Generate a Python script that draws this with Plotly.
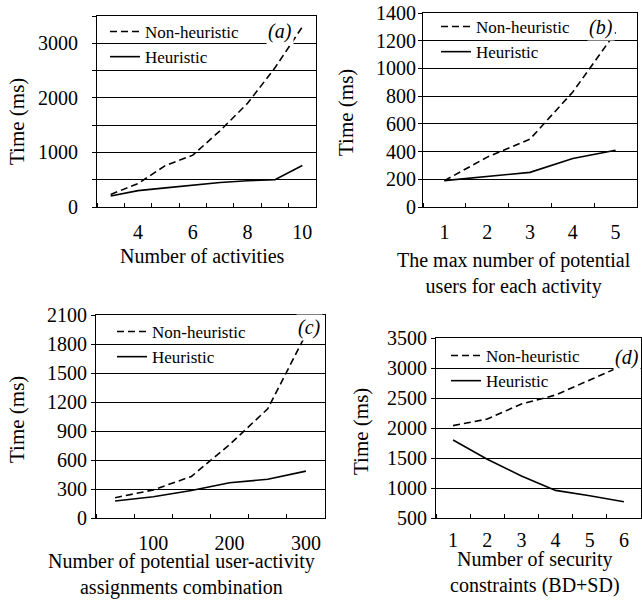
import plotly.graph_objects as go

W, H = 642, 608

# ---------------- data ----------------
a_x = [3, 4, 5, 6, 7, 8, 9, 10]
a_non = [230, 430, 760, 950, 1400, 1900, 2550, 3300]
a_heu = [200, 300, 350, 400, 450, 480, 500, 760]

b_x = [1, 2, 3, 4, 5]
b_non = [190, 360, 490, 830, 1260]
b_heu = [190, 220, 250, 350, 410]

c_x = [50, 100, 150, 200, 250, 300]
c_non = [210, 290, 430, 760, 1130, 1900]
c_heu = [175, 220, 285, 365, 400, 485]

d_x = [1, 2, 3, 4, 5, 6]
d_non = [2040, 2150, 2400, 2550, 2800, 3050]
d_heu = [1800, 1480, 1200, 960, 870, 770]

series_names = ["Non-heuristic", "Heuristic"]
panel_labels = ["(a)", "(b)", "(c)", "(d)"]
y_title = "Time (ms)"
x_titles = ["Number of activities",
            "The max number of potential<br>users for each activity",
            "Number of potential user-activity<br>assignments combination",
            "Number of security<br>constraints (BD+SD)"]

FONT = "Liberation Serif"


def px(x):
    return x / W


def py(y):
    return 1 - y / H


fig = go.Figure()

panels = [
    dict(x=a_x, non=a_non, heu=a_heu, xs="x", ys="y", lg="legend",
         xdom=(97, 316), ydom=(16, 207)),
    dict(x=b_x, non=b_non, heu=b_heu, xs="x2", ys="y2", lg="legend2",
         xdom=(423, 637), ydom=(13, 207)),
    dict(x=c_x, non=c_non, heu=c_heu, xs="x3", ys="y3", lg="legend3",
         xdom=(96, 325), ydom=(315, 518)),
    dict(x=d_x, non=d_non, heu=d_heu, xs="x4", ys="y4", lg="legend4",
         xdom=(436, 641), ydom=(338, 518)),
]

for p in panels:
    fig.add_trace(go.Scatter(x=p["x"], y=p["non"], mode="lines", name=series_names[0],
                             line=dict(color="black", width=1.6, dash="7px,4px"),
                             xaxis=p["xs"], yaxis=p["ys"], legend=p["lg"]))
    fig.add_trace(go.Scatter(x=p["x"], y=p["heu"], mode="lines", name=series_names[1],
                             line=dict(color="black", width=1.6),
                             xaxis=p["xs"], yaxis=p["ys"], legend=p["lg"]))

tickfont = dict(family=FONT, size=20, color="black")

xaxis_specs = [
    dict(range=[2.5, 10.5], tick0=0, dtick=2, minor_tick0=0.5, minor_dtick=1, standoff=7),
    dict(range=[0.5, 5.5], tick0=0, dtick=1, minor_tick0=0.5, minor_dtick=1, standoff=7),
    dict(range=[25, 325], tick0=0, dtick=100, minor_tick0=25, minor_dtick=50, standoff=7),
    dict(range=[0.5, 6.5], tick0=0, dtick=1, minor_tick0=0.5, minor_dtick=1, standoff=4),
]
yaxis_specs = [
    dict(range=[0, 3500], dtick=1000, minor=500, standoff=10),
    dict(range=[0, 1400], dtick=200, minor=None, standoff=-2),
    dict(range=[0, 2100], dtick=300, minor=None, standoff=0),
    dict(range=[500, 3500], dtick=500, minor=None, standoff=0),
]

layout = dict(width=W, height=H, margin=dict(l=0, r=0, t=0, b=0, autoexpand=False),
              paper_bgcolor="white", plot_bgcolor="white", showlegend=True)

for i, (p, xs, ys) in enumerate(zip(panels, xaxis_specs, yaxis_specs)):
    n = "" if i == 0 else str(i + 1)
    layout["xaxis" + n] = dict(
        domain=[px(p["xdom"][0]), px(p["xdom"][1])],
        anchor="y" + n, range=xs["range"], tickmode="linear",
        tick0=xs["tick0"], dtick=xs["dtick"], ticks="", showgrid=False,
        showline=True, linecolor="black", linewidth=1, mirror=True,
        tickfont=tickfont, ticklabelstandoff=xs["standoff"], zeroline=False,
        automargin=False,
        minor=dict(tick0=xs["minor_tick0"], dtick=xs["minor_dtick"], ticks="inside",
                   ticklen=4, tickcolor="black", tickwidth=1, showgrid=False),
    )
    yd = dict(
        domain=[py(p["ydom"][1]), py(p["ydom"][0])],
        anchor="x" + n, range=ys["range"], tickmode="linear",
        tick0=0, dtick=ys["dtick"], ticks="outside", ticklen=4, tickcolor="black",
        showgrid=True, gridcolor="black", gridwidth=1, automargin=False,
        showline=True, linecolor="black", linewidth=1, mirror=True,
        tickfont=tickfont, zeroline=False, ticklabelstandoff=ys["standoff"],
    )
    if ys["minor"]:
        yd["minor"] = dict(tick0=0, dtick=ys["minor"], ticks="outside", ticklen=4,
                           tickcolor="black", showgrid=True, gridcolor="black", gridwidth=1)
    layout["yaxis" + n] = yd

legend_pos = [(105, 14), (436, 9), (112, 314), (446, 338)]
for i, (lx, ly) in enumerate(legend_pos):
    n = "legend" if i == 0 else "legend" + str(i + 1)
    layout[n] = dict(x=px(lx), y=py(ly), xanchor="left", yanchor="top",
                     bgcolor="rgba(0,0,0,0)", borderwidth=0,
                     font=dict(family=FONT, size=17, color="black"),
                     itemwidth=30, tracegroupgap=0)

annotations = []
label_pos = [(280, 31), (601, 27), (309, 327), (627, 357)]
for (lx, ly), t in zip(label_pos, panel_labels):
    annotations.append(dict(x=px(lx), y=py(ly), xref="paper", yref="paper",
                            text="<i>" + t + "</i>", showarrow=False,
                            font=dict(family=FONT, size=20, color="black"),
                            bgcolor="white", xanchor="center", yanchor="middle",
                            borderpad=1))

ytitle_pos = [(17, 122), (346, 112), (17, 420), (361, 432)]
for (lx, ly) in ytitle_pos:
    annotations.append(dict(x=px(lx), y=py(ly), xref="paper", yref="paper",
                            text=y_title, showarrow=False, textangle=-90,
                            font=dict(family=FONT, size=21, color="black"),
                            xanchor="center", yanchor="middle"))

xtitle_pos = [(202, 256), (514, 273), (182, 574), (535, 572)]
for (lx, ly), t in zip(xtitle_pos, x_titles):
    annotations.append(dict(x=px(lx), y=py(ly), xref="paper", yref="paper",
                            text=t, showarrow=False,
                            font=dict(family=FONT, size=20, color="black"),
                            xanchor="center", yanchor="middle"))

layout["annotations"] = annotations
fig.update_layout(**layout)

fig.write_html("out.html", config={"displayModeBar": False},
               post_script="document.body.style.margin='0';document.body.style.overflow='hidden';")
